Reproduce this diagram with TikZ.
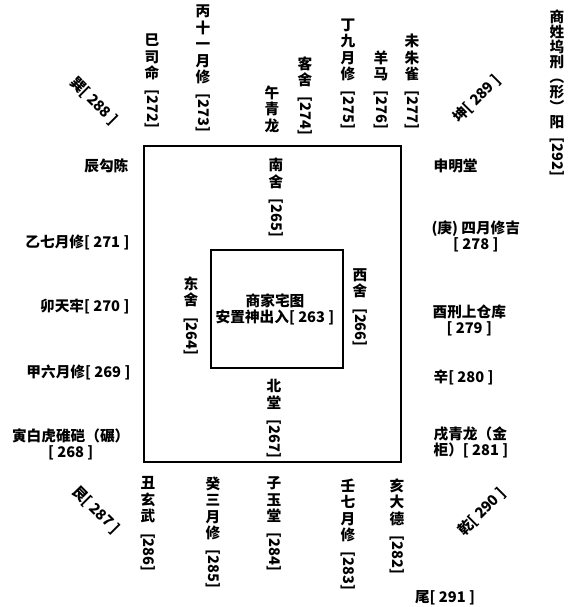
\documentclass[tikz,border=0pt]{standalone}
\usepackage{fontspec}
\setmainfont{Noto Sans CJK SC}
\usetikzlibrary{positioning}
\newcommand\vnum[1]{\raisebox{4pt}{\rotatebox{-90}{[#1]}}}
\tikzset{
  hlab/.style={font=\bfseries\fontsize{11}{12}\selectfont,inner sep=1pt,align=center},
  vlab/.style={hlab,font=\bfseries\fontsize{11}{12.4}\selectfont},
  top/.style={vlab,anchor=south},
  bot/.style={vlab,anchor=north},
  dlab/.style={hlab,inner sep=0pt},
  wall/.style={draw=black,line width=1.3pt}
}
\begin{document}
\begin{tikzpicture}[x=0.75pt,y=-0.75pt]
  \useasboundingbox (0,0) rectangle (571,607);
  % house walls
  \draw[wall] (144,146) rectangle (401,462);
  \draw[wall] (211,250) rectangle (343,368);
  \node[hlab] (tu) at (275,309) {商家宅图\\安置神出入[ 263 ]};

  % rooms round the inner house
  \node[vlab,anchor=north] (nan) at (276,157) {南\\舍\\\vnum{265}};
  \node[vlab,anchor=north] (dong) at (191,275) {东\\舍\\\vnum{264}};
  \node[vlab,anchor=north] (xi) at (360,267) {西\\舍\\\vnum{266}};
  \node[vlab,anchor=north] (bei) at (274,378) {北\\堂\\\vnum{267}};

  % top row
  \node[top] (si) at (152,130) {巳\\司\\命\\\vnum{272}};
  \node[top] (bing) at (203,134) {丙\\十\\一\\月\\修\\\vnum{273}};
  \node[top] (wu) at (272,134) {午\\青\\龙};
  \node[top] (ke) at (305,137) {客\\舍\\\vnum{274}};
  \node[top] (ding) at (348,131) {丁\\九\\月\\修\\\vnum{275}};
  \node[top] (yang) at (381,131) {羊\\马\\\vnum{276}};
  \node[top] (wei) at (412,131) {未\\朱\\雀\\\vnum{277}};
  \node[vlab,anchor=north,font=\bfseries\fontsize{11}{11.3}\selectfont] (shang) at (557,8)
    {商\\姓\\坞\\刑\\︵\\形\\︶\\阳\\\vnum{292}};

  % left side
  \node[hlab,anchor=east] (chen) at (130,166) {辰勾陈};
  \node[hlab,anchor=east] (yi) at (131,242) {乙七月修[ 271 ]};
  \node[hlab,anchor=east] (mao) at (131,307) {卯天牢[ 270 ]};
  \node[hlab,anchor=east] (jia) at (132,372) {甲六月修[ 269 ]};
  \node[hlab,anchor=east] (yin) at (131,444) {寅白虎碓硙（碾）\\{}[ 268 ]};

  % right side
  \node[hlab,anchor=west] (shen) at (432,166) {申明堂};
  \node[hlab,anchor=west] (geng) at (430,236) {(庚) 四月修吉\\{}[ 278 ]};
  \node[hlab,anchor=west] (you) at (431,320) {酉刑上仓库\\{}[ 279 ]};
  \node[hlab,anchor=west] (xin) at (432,377) {辛[ 280 ]};
  \node[hlab,anchor=west,align=left] (xu) at (432,442) {戌青龙（金\\柜）[ 281 ]};

  % bottom row
  \node[bot] (chou) at (148,475) {丑\\玄\\武\\\vnum{286}};
  \node[bot] (gui) at (213,475) {癸\\三\\月\\修\\\vnum{285}};
  \node[bot] (zi) at (274,475) {子\\玉\\堂\\\vnum{284}};
  \node[bot] (ren) at (348,477) {壬\\七\\月\\修\\\vnum{283}};
  \node[bot] (hai) at (397,477) {亥\\大\\德\\\vnum{282}};
  \node[hlab] (wei2) at (445,598) {尾[ 291 ]};

  % corners
  \node[dlab,rotate=-45] (xun) at (94,101) {巽[ 288 ]};
  \node[dlab,rotate=45] (kun) at (477,99) {坤[ 289 ]};
  \node[dlab,rotate=-45] (gen) at (96,510) {艮[ 287 ]};
  \node[dlab,rotate=45] (qian) at (482,512) {乾[ 290 ]};
\end{tikzpicture}
\end{document}
